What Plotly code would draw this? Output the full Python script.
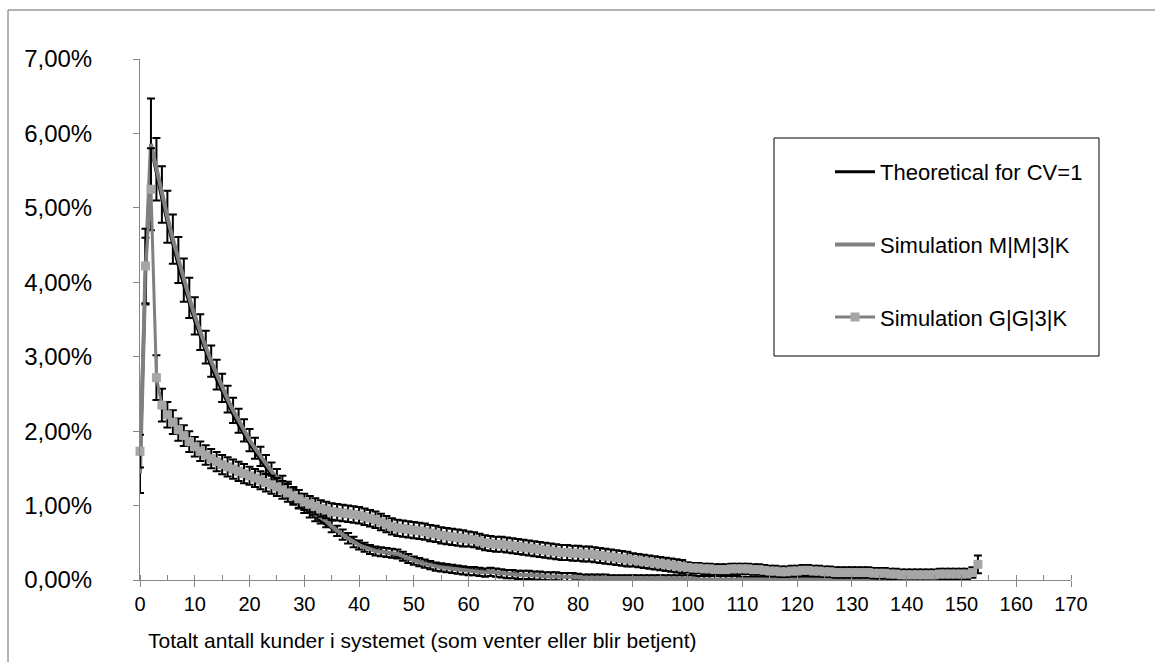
import plotly.graph_objects as go

# ---------------- data (values in percent) ----------------
x_theo = list(range(0, 151))
theoretical = (
    [1.47, 4.14, 5.82, 5.46, 5.12, 4.80, 4.50, 4.22, 3.96, 3.71]
    + [3.48, 3.27, 3.06, 2.87, 2.69, 2.53, 2.37, 2.22, 2.08, 1.95]
    + [1.83, 1.72, 1.61, 1.51, 1.42, 1.33, 1.25, 1.17, 1.10, 1.03]
    + [0.96, 0.90, 0.85, 0.79, 0.74, 0.70, 0.65, 0.61, 0.58, 0.54]
    + [0.51, 0.47, 0.44, 0.42, 0.39, 0.37, 0.34, 0.32, 0.30, 0.28]
    + [0.27, 0.25, 0.23, 0.22, 0.21, 0.19, 0.18, 0.17, 0.16, 0.15]
    + [0.14, 0.13, 0.12, 0.11, 0.11, 0.10, 0.09, 0.09, 0.08, 0.08]
    + [0.07, 0.07, 0.06, 0.06, 0.05, 0.05, 0.05, 0.04, 0.04, 0.04]
    + [0.04, 0.03, 0.03, 0.03, 0.03, 0.02, 0.02, 0.02, 0.02, 0.02]
    + [0.02, 0.02, 0.01, 0.01, 0.01, 0.01, 0.01, 0.01, 0.01, 0.01]
    + [0.01] * 20
    + [0.00] * 31
)

x_mm = list(range(0, 151))
sim_mm = (
    [1.43, 4.15, 5.86, 5.52, 5.18, 4.88, 4.58, 4.30, 4.03, 3.79]
    + [3.55, 3.33, 3.13, 2.94, 2.76, 2.58, 2.43, 2.28, 2.14, 2.01]
    + [1.88, 1.77, 1.66, 1.55, 1.46, 1.37, 1.29, 1.21, 1.13, 1.06]
    + [0.99, 0.93, 0.88, 0.84, 0.79, 0.72, 0.66, 0.61, 0.56, 0.51]
    + [0.47, 0.44, 0.41, 0.39, 0.38, 0.37, 0.36, 0.35, 0.32, 0.29]
    + [0.26, 0.24, 0.22, 0.20, 0.18, 0.17, 0.16, 0.15, 0.14, 0.13]
    + [0.12, 0.12, 0.11, 0.10, 0.11, 0.10, 0.09, 0.08, 0.08, 0.07]
    + [0.07, 0.07, 0.06, 0.06, 0.05, 0.05, 0.05, 0.04, 0.04, 0.04]
    + [0.04, 0.03, 0.03, 0.03, 0.03, 0.03, 0.02, 0.02, 0.02, 0.02]
    + [0.02] * 10
    + [0.02, 0.02, 0.01, 0.01, 0.01, 0.01, 0.01, 0.01, 0.01, 0.01]
    + [0.01] * 20
    + [0.00] * 21
)
err_mm = (
    [0.26, 0.45, 0.61, 0.42, 0.38, 0.35, 0.33, 0.31, 0.29, 0.27]
    + [0.25, 0.24, 0.22, 0.21, 0.20, 0.19, 0.18, 0.17, 0.16, 0.15]
    + [0.15, 0.14, 0.13, 0.13, 0.12, 0.12, 0.11, 0.11, 0.10, 0.10]
    + [0.09, 0.09, 0.09, 0.08, 0.08, 0.08, 0.07, 0.07, 0.07, 0.07]
    + [0.06] * 10
    + [0.055] * 30
    + [0.045] * 30
    + [0.035] * 41
)

x_gg = list(range(0, 154))
sim_gg = (
    [1.73, 4.22, 5.25, 2.72, 2.35, 2.22, 2.12, 2.02, 1.94, 1.86]
    + [1.79, 1.73, 1.68, 1.63, 1.59, 1.55, 1.52, 1.49, 1.46, 1.43]
    + [1.40, 1.37, 1.34, 1.31, 1.28, 1.25, 1.21, 1.17, 1.13, 1.09]
    + [1.05, 1.02, 0.99, 0.96, 0.94, 0.92, 0.91, 0.90, 0.89, 0.88]
    + [0.87, 0.85, 0.83, 0.81, 0.78, 0.75, 0.72, 0.70, 0.69, 0.68]
    + [0.67, 0.66, 0.65, 0.63, 0.62, 0.60, 0.59, 0.58, 0.57, 0.56]
    + [0.55, 0.54, 0.52, 0.50, 0.49, 0.48, 0.48, 0.47, 0.46, 0.45]
    + [0.44, 0.43, 0.42, 0.41, 0.40, 0.39, 0.38, 0.37, 0.37, 0.36]
    + [0.36, 0.35, 0.35, 0.34, 0.33, 0.32, 0.31, 0.30, 0.29, 0.28]
    + [0.27, 0.26, 0.25, 0.24, 0.23, 0.22, 0.21, 0.20, 0.19, 0.18]
    + [0.17, 0.16, 0.16, 0.15, 0.15, 0.14, 0.14, 0.14, 0.15, 0.15]
    + [0.15, 0.15, 0.14, 0.14, 0.13, 0.12, 0.12, 0.11, 0.11, 0.12]
    + [0.12, 0.13, 0.13, 0.12, 0.12, 0.11, 0.11, 0.10, 0.10, 0.10]
    + [0.10, 0.10, 0.10, 0.10, 0.09, 0.09, 0.09, 0.08, 0.08, 0.07]
    + [0.07, 0.07, 0.07, 0.07, 0.07, 0.07, 0.08, 0.08, 0.08, 0.08]
    + [0.08, 0.08, 0.10, 0.21]
)
err_gg = (
    [0.22, 0.50, 0.55, 0.30, 0.22, 0.17, 0.16, 0.15, 0.14, 0.14]
    + [0.13] * 10
    + [0.12] * 10
    + [0.11] * 10
    + [0.11] * 20
    + [0.10] * 30
    + [0.09] * 10
    + [0.07] * 53
    + [0.12]
)

series_names = ["Theoretical for CV=1", "Simulation M|M|3|K", "Simulation G|G|3|K"]
x_ticks = list(range(0, 171, 10))
y_ticks_pct = [0, 1, 2, 3, 4, 5, 6, 7]

FONT = "Liberation Sans, Arial, sans-serif"
XTICK_SIZE = 20
YTICK_SIZE = 24
TEXT_SIZE = 21
LEGEND_SIZE = 22

def frac(vals):
    return [v / 100.0 for v in vals]

fig = go.Figure()

fig.add_trace(go.Scatter(
    x=x_theo, y=frac(theoretical), name=series_names[0], mode="lines",
    line=dict(color="#000000", width=3), legendgroup="a", cliponaxis=False,
))
fig.add_trace(go.Scatter(
    x=x_mm, y=frac(sim_mm), name=series_names[1], mode="lines",
    line=dict(color="#808080", width=4), legendgroup="b", cliponaxis=False,
    error_y=dict(type="data", array=frac(err_mm), visible=True,
                 color="#000000", thickness=2, width=4),
))
fig.add_trace(go.Scatter(
    x=x_gg, y=frac(sim_gg), name=series_names[2], mode="lines+markers",
    line=dict(color="#808080", width=3), legendgroup="c", cliponaxis=False,
    marker=dict(symbol="square", size=9, color="#A6A6A6", line=dict(width=0)),
    error_y=dict(type="data", array=frac(err_gg), visible=True,
                 color="#000000", thickness=2, width=4),
))

# plot area in px: x 140..1071, y 59..580
PL, PR, PT, PB = 140, 1071, 59, 580
W, H = 1155, 662
def px_x(px):
    return (px - PL) / (PR - PL)
def px_y(py):
    return (PB - py) / (PB - PT)

fig.update_layout(
    width=W, height=H,
    margin=dict(l=PL, r=W - PR, t=PT, b=H - PB, pad=0),
    paper_bgcolor="white", plot_bgcolor="white",
    separators=",.",
    font=dict(family=FONT, size=XTICK_SIZE, color="#000000"),
    showlegend=True,
    legend=dict(
        x=px_x(830), y=px_y(151), xanchor="left", yanchor="top",
        bgcolor="rgba(0,0,0,0)", borderwidth=0,
        font=dict(family=FONT, size=LEGEND_SIZE, color="#000000"),
        tracegroupgap=41, itemwidth=40,
    ),
    xaxis=dict(
        range=[0, 170], tickmode="array", tickvals=x_ticks,
        ticktext=[str(v) for v in x_ticks],
        showgrid=False, zeroline=False,
        showline=True, linecolor="#868686", linewidth=1,
        ticks="outside", ticklen=6, tickcolor="#868686", tickwidth=1,
        minor=dict(dtick=5, tick0=0, ticks="inside", ticklen=5,
                   tickcolor="#868686", tickwidth=1, showgrid=False),
        tickfont=dict(family=FONT, size=XTICK_SIZE, color="#000000"),
    ),
    yaxis=dict(
        range=[0, 0.07], tickmode="array", tickvals=frac(y_ticks_pct),
        tickformat=".2%",
        showgrid=False, zeroline=False,
        showline=True, linecolor="#868686", linewidth=1,
        ticks="outside", ticklen=6, tickcolor="#868686", tickwidth=1,
        ticklabelstandoff=36,
        tickfont=dict(family=FONT, size=YTICK_SIZE, color="#000000"),
    ),
    annotations=[dict(
        text="Totalt antall kunder i systemet (som venter eller blir betjent)",
        xref="paper", yref="paper", x=px_x(146), y=px_y(640),
        xanchor="left", yanchor="middle", showarrow=False,
        font=dict(family=FONT, size=TEXT_SIZE, color="#000000"),
    )],
    shapes=[
        # outer chart border
        dict(type="rect", xref="paper", yref="paper",
             x0=px_x(8), x1=px_x(1170), y0=px_y(680), y1=px_y(10),
             line=dict(color="#666666", width=1), fillcolor="rgba(0,0,0,0)", layer="below"),
        # legend frame
        dict(type="rect", xref="paper", yref="paper",
             x0=px_x(774), x1=px_x(1099), y0=px_y(356), y1=px_y(138),
             line=dict(color="#000000", width=1), fillcolor="white", layer="below"),
    ],
)

fig.write_html("out.html")
